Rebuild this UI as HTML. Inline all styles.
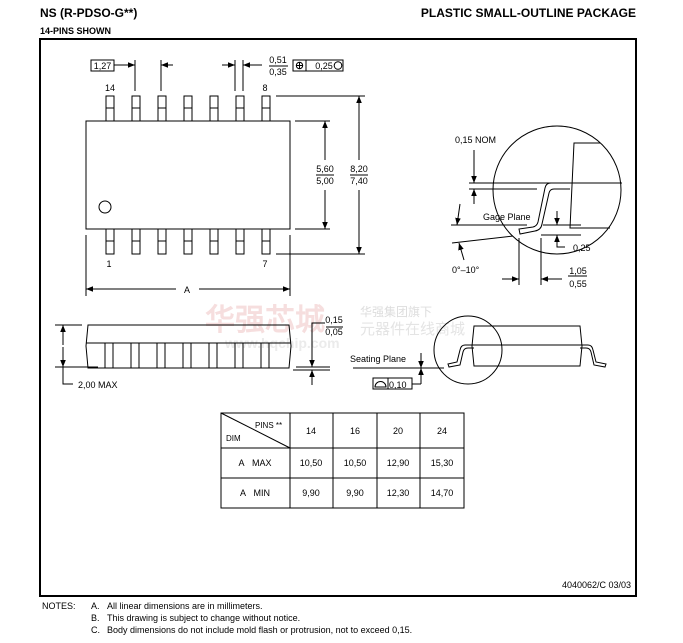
<!DOCTYPE html>
<html><head><style>
html,body{margin:0;padding:0;background:#fff;}
svg{display:block;}
text{font-family:"Liberation Sans",Arial,sans-serif;fill:#000;}
.t{font-size:9px;}
.b{font-weight:bold;}
</style></head><body>
<svg width="683" height="643" viewBox="0 0 683 643" xmlns="http://www.w3.org/2000/svg">
<defs>
<marker id="a" viewBox="0 0 10 10" refX="10" refY="5" markerWidth="7" markerHeight="7" orient="auto-start-reverse" markerUnits="userSpaceOnUse"><path d="M0,1 L10,5 L0,9 z" fill="#000"/></marker>
</defs>
<text x="40" y="17" font-size="12" class="b">NS (R-PDSO-G**)</text>
<text x="40" y="34" font-size="9" class="b">14-PINS SHOWN</text>
<text x="636" y="17" font-size="12" class="b" text-anchor="end">PLASTIC SMALL-OUTLINE PACKAGE</text>
<rect x="40" y="39" width="596" height="557" fill="none" stroke="#000" stroke-width="2"/>

<!-- watermark -->
<text x="205" y="330" font-size="30" font-weight="bold" style="fill:#f6dede">华强芯城</text>
<text x="360" y="316" font-size="12" style="fill:#ddd">华强集团旗下</text>
<text x="360" y="334" font-size="15" style="fill:#e4e4e4">元器件在线商城</text>
<text x="225" y="348" font-size="14" font-weight="bold" style="fill:#ebebeb">www.hqchip.com</text>

<g stroke="#000" stroke-width="1" fill="none">
<rect x="86" y="121" width="204" height="108"/>
<circle cx="105" cy="207" r="6"/>
<g id="pt">
<rect x="106" y="96" width="8" height="25"/><line x1="106" y1="108" x2="114" y2="108"/>
<rect x="106" y="229" width="8" height="25"/><line x1="106" y1="241" x2="114" y2="241"/>
</g>
<use href="#pt" x="26"/><use href="#pt" x="52"/><use href="#pt" x="78"/><use href="#pt" x="104"/><use href="#pt" x="130"/><use href="#pt" x="156"/>
<rect x="91" y="60" width="23" height="11"/>
<line x1="114" y1="65" x2="135" y2="65" marker-end="url(#a)"/>
<line x1="135" y1="60" x2="135" y2="91"/>
<line x1="161" y1="60" x2="161" y2="91"/>
<line x1="173" y1="65" x2="161" y2="65" marker-end="url(#a)"/>
<line x1="235" y1="60" x2="235" y2="91"/>
<line x1="243" y1="60" x2="243" y2="91"/>
<line x1="222" y1="65" x2="235" y2="65" marker-end="url(#a)"/>
<line x1="262" y1="65" x2="243" y2="65" marker-end="url(#a)"/>
<line x1="269" y1="66" x2="288" y2="66"/>
<rect x="293" y="60" width="50" height="11"/><line x1="306" y1="60" x2="306" y2="71"/>
<circle cx="299.5" cy="65.5" r="3.2"/><line x1="299.5" y1="62" x2="299.5" y2="69"/><line x1="296" y1="65.5" x2="303" y2="65.5"/>
<circle cx="338" cy="65.5" r="3.8"/>
<line x1="295" y1="121" x2="330" y2="121"/><line x1="295" y1="229" x2="330" y2="229"/>
<line x1="325" y1="160" x2="325" y2="121" marker-end="url(#a)"/>
<line x1="325" y1="190" x2="325" y2="229" marker-end="url(#a)"/>
<line x1="316" y1="175" x2="334" y2="175"/>
<line x1="276" y1="96" x2="365" y2="96"/><line x1="276" y1="254" x2="365" y2="254"/>
<line x1="359" y1="160" x2="359" y2="96" marker-end="url(#a)"/>
<line x1="359" y1="190" x2="359" y2="254" marker-end="url(#a)"/>
<line x1="350" y1="175" x2="368" y2="175"/>
<line x1="86" y1="235" x2="86" y2="296"/><line x1="290" y1="235" x2="290" y2="296"/>
<line x1="176" y1="289" x2="86" y2="289" marker-end="url(#a)"/>
<line x1="199" y1="289" x2="290" y2="289" marker-end="url(#a)"/>

<path d="M88,325 L289,325 L291,346 L289,368 L88,368 L86,346 Z"/>
<line x1="86" y1="343" x2="291" y2="343"/>
<g id="sl"><rect x="105" y="343" width="8" height="25"/></g>
<use href="#sl" x="26"/><use href="#sl" x="52"/><use href="#sl" x="78"/><use href="#sl" x="104"/><use href="#sl" x="130"/><use href="#sl" x="156"/>
<line x1="55" y1="325" x2="82" y2="325"/><line x1="55" y1="367" x2="98" y2="367"/>
<line x1="63" y1="345" x2="63" y2="325" marker-end="url(#a)"/>
<line x1="63" y1="347" x2="63" y2="367" marker-end="url(#a)"/>
<polyline points="63,367 63,384 73,384"/>
<line x1="296" y1="367" x2="330" y2="367"/><line x1="293" y1="370" x2="330" y2="370"/>
<polyline points="325,323 312,323 312,367" />
<line x1="312" y1="352" x2="312" y2="367" marker-end="url(#a)"/>
<line x1="312" y1="385" x2="312" y2="370" marker-end="url(#a)"/>
<line x1="326" y1="327" x2="343" y2="327"/>

<circle cx="468" cy="350" r="34"/>
<path d="M474,326 L580,326 L582,346 L580,366 L474,366 L472,346 Z"/>
<line x1="472" y1="345" x2="582" y2="345"/>
<path d="M474,345 L465,345 Q461,345 460,350 L457,362 L448,364 L449,367 L460,365 L463,352 Q464,348 468,348 L474,348"/>
<path d="M580,345 L588,345 Q592,345 593,350 L596,362 L606,364 L605,367 L594,365 L591,352 Q590,348 586,348 L580,348"/>
<line x1="353" y1="368" x2="444" y2="368"/>
<line x1="421" y1="353" x2="421" y2="368" marker-end="url(#a)"/>
<line x1="421" y1="384" x2="421" y2="368" marker-end="url(#a)"/>
<polyline points="421,384 412,384"/>
<rect x="373" y="378" width="39" height="11"/><line x1="388" y1="378" x2="388" y2="389"/>
<path d="M375,387 A5.5,5.5 0 0 1 386,387 Z"/>

<circle cx="557" cy="190" r="64"/>
<polyline points="600,143 574,143 570,228 610,228"/>
<line x1="469" y1="183" x2="622" y2="183"/>
<line x1="469" y1="189" x2="537" y2="189"/>
<path d="M570,183 L551,183 Q546,183 545,188 L538,222 Q537,226 533,227 L519,229 L520,234 L535,231 Q541,230 542,224 L549,193 Q550,189 554,189 L570,189"/>
<line x1="474" y1="150" x2="474" y2="183" marker-end="url(#a)"/>
<line x1="474" y1="204" x2="474" y2="189" marker-end="url(#a)"/>
<line x1="451" y1="225" x2="527" y2="225"/>
<line x1="452" y1="243" x2="513" y2="236"/>
<line x1="460" y1="204" x2="457" y2="225" marker-end="url(#a)"/>
<line x1="464" y1="260" x2="459" y2="243" marker-end="url(#a)"/>
<line x1="543" y1="225" x2="581" y2="225"/><line x1="541" y1="235" x2="581" y2="235"/>
<line x1="557" y1="211" x2="557" y2="225" marker-end="url(#a)"/>
<polyline points="565,247 557,247 557,235"/>
<line x1="557" y1="247" x2="557" y2="235" marker-end="url(#a)"/>
<line x1="519" y1="238" x2="519" y2="285"/><line x1="541" y1="238" x2="541" y2="285"/>
<line x1="502" y1="279" x2="519" y2="279" marker-end="url(#a)"/>
<line x1="562" y1="279" x2="541" y2="279" marker-end="url(#a)"/>
<line x1="568" y1="276" x2="587" y2="276"/>

<rect x="221" y="413" width="243" height="95"/>
<line x1="290" y1="413" x2="290" y2="508"/><line x1="333" y1="413" x2="333" y2="508"/>
<line x1="377" y1="413" x2="377" y2="508"/><line x1="420" y1="413" x2="420" y2="508"/>
<line x1="221" y1="448" x2="464" y2="448"/><line x1="221" y1="478" x2="464" y2="478"/>
<line x1="221" y1="413" x2="290" y2="448"/>
</g>

<g class="t">
<text x="110" y="91" text-anchor="middle">14</text>
<text x="265" y="91" text-anchor="middle">8</text>
<text x="109" y="267" text-anchor="middle">1</text>
<text x="265" y="267" text-anchor="middle">7</text>
<text x="102.5" y="69" text-anchor="middle">1,27</text>
<text x="278" y="63" text-anchor="middle">0,51</text>
<text x="278" y="75" text-anchor="middle">0,35</text>
<text x="324" y="69" text-anchor="middle">0,25</text>
<text x="325" y="172" text-anchor="middle">5,60</text>
<text x="325" y="184" text-anchor="middle">5,00</text>
<text x="359" y="172" text-anchor="middle">8,20</text>
<text x="359" y="184" text-anchor="middle">7,40</text>
<text x="187" y="293" text-anchor="middle">A</text>
<text x="334" y="323" text-anchor="middle">0,15</text>
<text x="334" y="335" text-anchor="middle">0,05</text>
<text x="78" y="388">2,00 MAX</text>
<text x="350" y="362">Seating Plane</text>
<text x="389" y="388">0,10</text>
<text x="455" y="143">0,15 NOM</text>
<text x="483" y="220">Gage Plane</text>
<text x="573" y="251">0,25</text>
<text x="452" y="273">0°–10°</text>
<text x="578" y="274" text-anchor="middle">1,05</text>
<text x="578" y="287" text-anchor="middle">0,55</text>
<text x="255" y="428" font-size="8">PINS **</text>
<text x="226" y="441" font-size="8">DIM</text>
<text x="311" y="434" text-anchor="middle">14</text>
<text x="355" y="434" text-anchor="middle">16</text>
<text x="398" y="434" text-anchor="middle">20</text>
<text x="442" y="434" text-anchor="middle">24</text>
<text x="255" y="466" text-anchor="middle">A&#160;&#160;&#160;MAX</text>
<text x="311" y="466" text-anchor="middle">10,50</text>
<text x="355" y="466" text-anchor="middle">10,50</text>
<text x="398" y="466" text-anchor="middle">12,90</text>
<text x="442" y="466" text-anchor="middle">15,30</text>
<text x="255" y="496" text-anchor="middle">A&#160;&#160;&#160;MIN</text>
<text x="311" y="496" text-anchor="middle">9,90</text>
<text x="355" y="496" text-anchor="middle">9,90</text>
<text x="398" y="496" text-anchor="middle">12,30</text>
<text x="442" y="496" text-anchor="middle">14,70</text>
<text x="631" y="588" text-anchor="end">4040062/C 03/03</text>
<text x="42" y="609">NOTES:</text>
<text x="91" y="609">A.</text><text x="107" y="609">All linear dimensions are in millimeters.</text>
<text x="91" y="621">B.</text><text x="107" y="621">This drawing is subject to change without notice.</text>
<text x="91" y="633">C.</text><text x="107" y="633">Body dimensions do not include mold flash or protrusion, not to exceed 0,15.</text>
</g>
</svg>
</body></html>
